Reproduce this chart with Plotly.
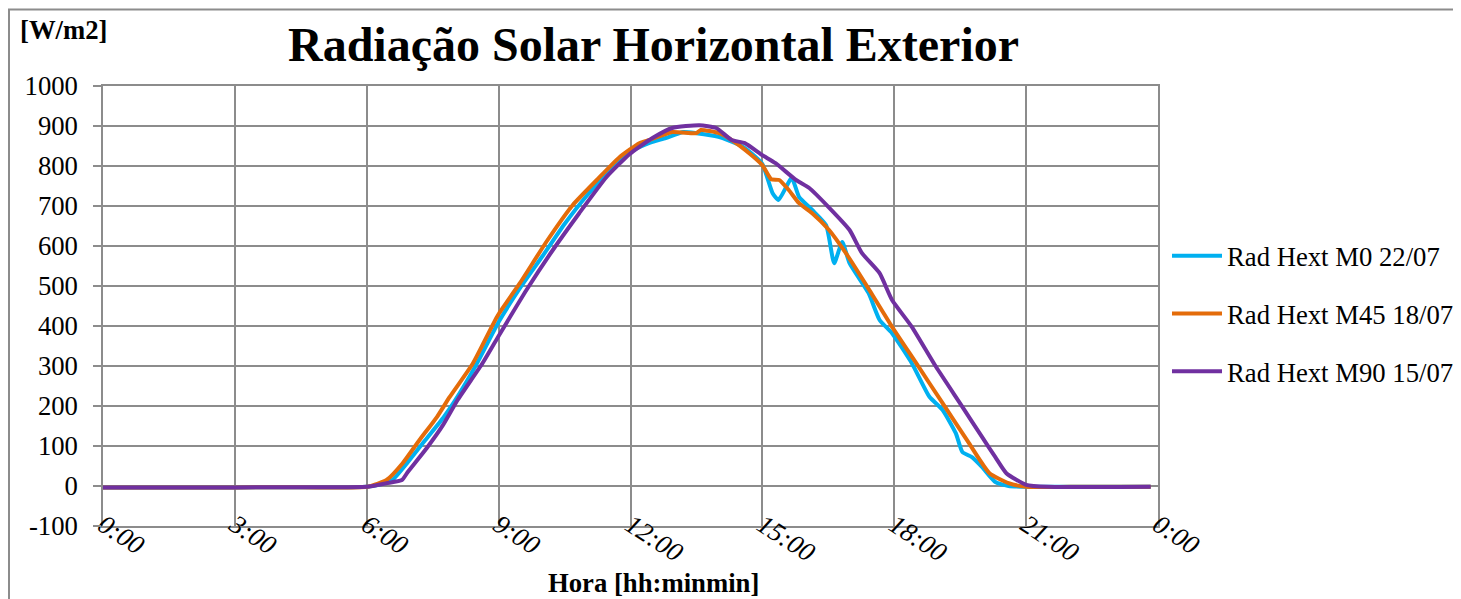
import plotly.graph_objects as go

# time of day (H:MM) and radiation [W/m2] for each measurement day
m0_time = ["0:00", "2:00", "4:00", "6:00", "6:20", "6:35", "6:55", "7:20", "7:45", "8:00",
           "8:30", "9:00", "9:30", "10:00", "10:30", "11:00", "11:30", "12:00", "12:25", "12:48",
           "13:12", "13:30", "14:00", "14:30", "14:45", "15:00", "15:14", "15:22", "15:40", "15:50",
           "16:08", "16:27", "16:38", "16:49", "16:59", "17:25", "17:40", "17:57", "18:24", "18:48",
           "19:06", "19:24", "19:33", "19:46", "20:00", "20:18", "20:36", "21:00", "22:00", "23:50"]
m0_val = [-4, -4, -3, -2, 5, 15, 57, 115, 172, 212,
          305, 410, 497, 575, 655, 725, 785, 835, 857, 870,
          885, 882, 873, 852, 832, 805, 732, 715, 770, 723,
          690, 652, 557, 610, 557, 482, 415, 382, 307, 223,
          190, 132, 85, 72, 47, 10, 0, -2, -2, -2]

m45_time = ["0:00", "2:00", "4:00", "6:00", "6:27", "6:49", "7:12", "7:36", "7:53", "8:25",
            "8:59", "9:29", "10:05", "10:41", "11:14", "11:45", "12:12", "12:26", "12:57", "13:30",
            "13:36", "14:01", "14:18", "14:42", "15:00", "15:12", "15:23", "15:36", "15:50", "16:08",
            "16:31", "16:54", "17:26", "17:57", "18:30", "19:06", "19:42", "20:10", "20:36", "21:00",
            "22:00", "23:50"]
m45_val = [-4, -4, -3, -2, 15, 57, 115, 173, 222, 307,
           427, 507, 610, 702, 765, 822, 857, 865, 885, 882,
           890, 882, 865, 832, 802, 767, 765, 740, 707, 682,
           640, 582, 490, 398, 307, 207, 107, 32, 7, -2,
           -2, -2]

m90_time = ["0:00", "2:00", "4:00", "6:00", "6:27", "6:48", "6:56", "7:22", "7:44", "8:04",
            "8:38", "8:59", "9:38", "10:14", "10:50", "11:27", "11:59", "12:30", "12:57", "13:34",
            "13:57", "14:18", "14:36", "15:00", "15:18", "15:46", "16:04", "16:30", "16:59", "17:16",
            "17:40", "17:57", "18:24", "18:57", "19:33", "20:00", "20:18", "20:33", "21:00", "21:30",
            "23:50"]
m90_val = [-4, -4, -3, -2, 7, 15, 35, 95, 152, 215,
           307, 372, 490, 590, 682, 772, 830, 870, 895, 902,
           895, 865, 857, 827, 807, 765, 745, 698, 640, 582,
           532, 465, 398, 298, 198, 122, 72, 32, 3, -2,
           -2]

series_names = ["Rad Hext M0 22/07", "Rad Hext M45 18/07", "Rad Hext M90 15/07"]
series_colors = ["#00B0F0", "#E46C0A", "#7030A0"]

tick_hours = [0, 3, 6, 9, 12, 15, 18, 21, 24]
tick_text = ["0:00", "3:00", "6:00", "9:00", "12:00", "15:00", "18:00", "21:00", "0:00"]
y_ticks = [-100, 0, 100, 200, 300, 400, 500, 600, 700, 800, 900, 1000]


def to_hours(times):
    out = []
    for t in times:
        h, m = t.split(":")
        out.append(int(h) + int(m) / 60)
    return out


FONT = "Liberation Serif, Times New Roman, serif"
GRID = "#8c8c8c"
FS = 26.7  # 20pt text

# the page body adds an 8px margin, so the figure is drawn 8px in
OFF = 8
W, H = 1461 - OFF, 599 - OFF
# plot area as seen on screen
L, R, T, B = 103, 1158, 86, 526

fig = go.Figure()

data = [(m0_time, m0_val), (m45_time, m45_val), (m90_time, m90_val)]
for i, (times, vals) in enumerate(data):
    fig.add_trace(
        go.Scatter(
            x=to_hours(times),
            y=vals,
            mode="lines",
            name=series_names[i],
            legendgroup=f"g{i}",
            line={"color": series_colors[i], "width": 4, "shape": "spline", "smoothing": 0.5},
        )
    )


def px_x(px):
    return (px - L) / (R - L)


def px_y(py):
    return (B - py) / (B - T)


fig.update_layout(
    width=W,
    height=H,
    margin={"l": L - OFF, "r": W - (R - OFF), "t": T - OFF, "b": H - (B - OFF), "autoexpand": False},
    paper_bgcolor="white",
    plot_bgcolor="white",
    font={"family": FONT, "color": "black", "size": FS},
    showlegend=True,
    legend={
        "x": px_x(1167),
        "y": px_y(232),
        "xanchor": "left",
        "yanchor": "top",
        "font": {"family": FONT, "size": FS},
        "tracegroupgap": 20,
        "itemwidth": 50,
        "bgcolor": "rgba(0,0,0,0)",
    },
    xaxis={
        "range": [0, 24],
        "tickvals": tick_hours,
        "ticktext": tick_text,
        "tickangle": 33,
        "tickfont": {"family": FONT, "size": FS, "style": "italic"},
        "ticklabelstandoff": -29,
        "automargin": False,
        "showgrid": True,
        "gridcolor": GRID,
        "gridwidth": 1.5,
        "showline": True,
        "linecolor": GRID,
        "linewidth": 1.5,
        "mirror": True,
        "zeroline": False,
        "ticks": "",
    },
    yaxis={
        "range": [-100, 1000],
        "tickvals": y_ticks,
        "ticktext": [str(v) for v in y_ticks],
        "tickfont": {"family": FONT, "size": FS},
        "automargin": False,
        "showgrid": True,
        "gridcolor": GRID,
        "gridwidth": 1.5,
        "showline": True,
        "linecolor": GRID,
        "linewidth": 1.5,
        "mirror": True,
        "zeroline": False,
        "ticks": "outside",
        "ticklen": 8,
        "tickcolor": GRID,
        "tickwidth": 1.5,
        "ticklabelstandoff": 10,
    },
    annotations=[
        {
            "text": "<b>Radiação Solar Horizontal Exterior</b>",
            "xref": "paper", "yref": "paper",
            "x": px_x(653), "y": px_y(44),
            "xanchor": "center", "yanchor": "middle",
            "showarrow": False,
            "font": {"family": FONT, "size": 48},
        },
        {
            "text": "<b>[W/m2]</b>",
            "xref": "paper", "yref": "paper",
            "x": px_x(18), "y": px_y(30),
            "xanchor": "left", "yanchor": "middle",
            "showarrow": False,
            "font": {"family": FONT, "size": FS},
        },
        {
            "text": "<b>Hora [hh:minmin]</b>",
            "xref": "paper", "yref": "paper",
            "x": px_x(653), "y": px_y(583),
            "xanchor": "center", "yanchor": "middle",
            "showarrow": False,
            "font": {"family": FONT, "size": FS},
        },
    ],
    shapes=[
        {
            "type": "rect",
            "xref": "paper", "yref": "paper",
            "x0": px_x(9), "x1": px_x(1470),
            "y0": px_y(610), "y1": px_y(9.5),
            "line": {"color": GRID, "width": 2},
            "layer": "below",
        }
    ],
)

fig.write_html("out.html")
